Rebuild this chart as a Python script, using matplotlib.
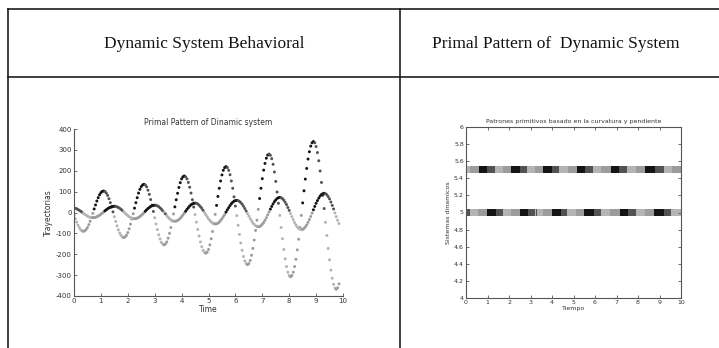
import numpy as np
import matplotlib
matplotlib.use("Agg")
import matplotlib.pyplot as plt
from matplotlib.lines import Line2D

plt.rcParams["axes.unicode_minus"] = False

# --- data (t step 0.05) ---
t = np.arange(198) * 0.05

# big oscillation, growing amplitude
traj_big = [
    -12, -30, -46, -61, -73, -83, -88, -90, -88, -82, -72, -58, -42, -23, -4, 17, 36, 55, 71, 85,
    95, 101, 103, 101, 93, 82, 66, 47, 26, 3, -20, -43, -64, -83, -99, -110, -118, -120, -117, -109,
    -96, -78, -56, -32, -6, 21, 47, 71, 93, 111, 124, 132, 135, 132, 123, 107, 87, 62, 35, 5,
    -25, -55, -82, -107, -127, -143, -152, -155, -151, -141, -123, -100, -72, -41, -7, 27, 61, 92, 120, 143,
    161, 171, 175, 171, 161, 144, 121, 93, 61, 26, -10, -46, -81, -113, -141, -164, -181, -191, -195, -190,
    -177, -155, -126, -91, -52, -9, 34, 77, 116, 151, 180, 202, 215, 220, 215, 202, 181, 151, 116, 75,
    31, -15, -61, -105, -146, -181, -211, -232, -245, -250, -245, -230, -205, -172, -132, -86, -37, 15, 67, 116,
    162, 203, 235, 260, 275, 280, 274, 258, 231, 194, 149, 98, 44, -14, -72, -126, -177, -222, -259, -286,
    -302, -308, -302, -286, -259, -224, -179, -128, -72, -14, 46, 104, 160, 211, 256, 291, 318, 334, 340, 334,
    316, 287, 248, 199, 144, 82, 19, -47, -110, -172, -227, -276, -315, -344, -362, -368, -361, -342,
]

# small oscillation
traj_small = [
    21, 20, 18, 14, 10, 6, 1, -4, -9, -13, -17, -21, -23, -24, -25, -24, -23, -20, -17, -13,
    -8, -3, 2, 8, 13, 18, 22, 25, 28, 29, 30, 29, 27, 24, 20, 15, 9, 3, -3, -9,
    -15, -20, -24, -27, -29, -30, -29, -27, -24, -19, -14, -8, -1, 6, 13, 19, 24, 29, 32, 34,
    35, 34, 32, 28, 22, 16, 8, 0, -7, -15, -23, -29, -35, -39, -41, -42, -41, -38, -34, -28,
    -20, -12, -3, 6, 15, 23, 31, 37, 41, 44, 45, 44, 41, 35, 28, 20, 10, 0, -10, -20,
    -30, -38, -45, -51, -54, -55, -54, -51, -46, -38, -30, -20, -10, 2, 13, 23, 33, 42, 49, 54,
    57, 58, 57, 53, 47, 40, 30, 19, 7, -5, -17, -29, -40, -50, -57, -63, -67, -68, -67, -63,
    -56, -48, -37, -25, -12, 2, 16, 29, 41, 52, 60, 67, 71, 72, 71, 66, 59, 49, 38, 24,
    10, -5, -20, -34, -48, -60, -69, -76, -80, -82, -81, -76, -69, -59, -47, -34, -19, -3, 13, 29,
    44, 57, 69, 79, 86, 90, 92, 90, 85, 76, 65, 50, 34, 17, -2, -20, -37, -53,
]

headers = ["Dynamic System Behavioral", "Primal Pattern of  Dynamic System"]
row_levels = [5.5, 5.0]   # big series row, small series row

# grey level per primitive (slope sign, curvature sign)
prim_colors = {
    (1, -1): "#141414",   # rising, concave down
    (-1, -1): "#525252",  # falling, concave down
    (-1, 1): "#b4b4b4",   # falling, concave up
    (1, 1): "#9c9c9c",    # rising, concave up
}


def primitive_colors(y):
    y = np.asarray(y, dtype=float)
    d1 = np.gradient(y)
    d2 = np.gradient(d1)
    s1 = np.where(d1 >= 0, 1, -1)
    s2 = np.where(d2 >= 0, 1, -1)
    return [prim_colors[(a, b)] for a, b in zip(s1, s2)]


W, H = 719, 348
fig = plt.figure(figsize=(W / 100, H / 100), dpi=100)
fig.patch.set_facecolor("white")

# --- table frame ---
def hline(y, x0, x1):
    fig.add_artist(Line2D([x0 / W, x1 / W], [1 - y / H, 1 - y / H], color="#1e1e1e", lw=1.2))

def vline(x, y0, y1):
    fig.add_artist(Line2D([x / W, x / W], [1 - y0 / H, 1 - y1 / H], color="#1e1e1e", lw=1.2))

hline(9, 8, W)
hline(77, 8, W)
vline(8, 9, H)
vline(400, 9, H)

fig.text(204 / W, 1 - 44 / H, headers[0], ha="center", va="center",
         family="Liberation Serif", fontsize=12.5, color="#111")
fig.text(556 / W, 1 - 44 / H, headers[1], ha="center", va="center",
         family="Liberation Serif", fontsize=12.5, color="#111")

txt = "#333333"

# --- left plot: trajectories ---
ax1 = fig.add_axes([74 / W, 1 - 296 / H, 269 / W, 167 / H])
for y in (traj_big, traj_small):
    ax1.scatter(t, y, c=primitive_colors(y), s=4.5, marker="o", linewidths=0)
ax1.set_xlim(0, 10)
ax1.set_ylim(-400, 400)
ax1.set_xticks(range(0, 11))
ax1.set_yticks(range(-400, 401, 100))
ax1.spines["top"].set_visible(False)
ax1.spines["right"].set_visible(False)
for sp in ("left", "bottom"):
    ax1.spines[sp].set_color("#555")
    ax1.spines[sp].set_linewidth(0.8)
ax1.tick_params(direction="in", length=2.5, width=0.6, colors="#555",
                labelsize=5, labelcolor=txt, pad=1.5)
ax1.set_title("Primal Pattern of Dinamic system", fontsize=5.5, color=txt, pad=3)
ax1.set_xlabel("Time", fontsize=5.5, color=txt, labelpad=1)
ax1.set_ylabel("Trayectorias", fontsize=5.5, color=txt, labelpad=2)

# --- right plot: primitive patterns ---
ax2 = fig.add_axes([466 / W, 1 - 298 / H, 215 / W, 171 / H])
for lvl, y in zip(row_levels, (traj_big, traj_small)):
    ax2.scatter(t, np.full(len(t), lvl), c=primitive_colors(y), s=22, marker="s", linewidths=0)
ax2.set_xlim(0, 10)
ax2.set_ylim(4, 6)
ax2.set_xticks(range(0, 11))
ax2.set_yticks(np.arange(4, 6.01, 0.2))
ax2.set_yticklabels(["4", "4.2", "4.4", "4.6", "4.8", "5", "5.2", "5.4", "5.6", "5.8", "6"])
for sp in ax2.spines.values():
    sp.set_color("#555")
    sp.set_linewidth(0.8)
ax2.tick_params(direction="in", length=2.5, width=0.6, colors="#555",
                labelsize=4.5, labelcolor=txt, pad=1.5, top=True, right=True)
ax2.set_title("Patrones primitivos basado en la curvatura y pendiente", fontsize=4.5, color=txt, pad=3)
ax2.set_xlabel("Tiempo", fontsize=4.5, color=txt, labelpad=1)
ax2.set_ylabel("Sistemas dinamicos", fontsize=4.5, color=txt, labelpad=2)

fig.savefig("out.png", dpi=100)
